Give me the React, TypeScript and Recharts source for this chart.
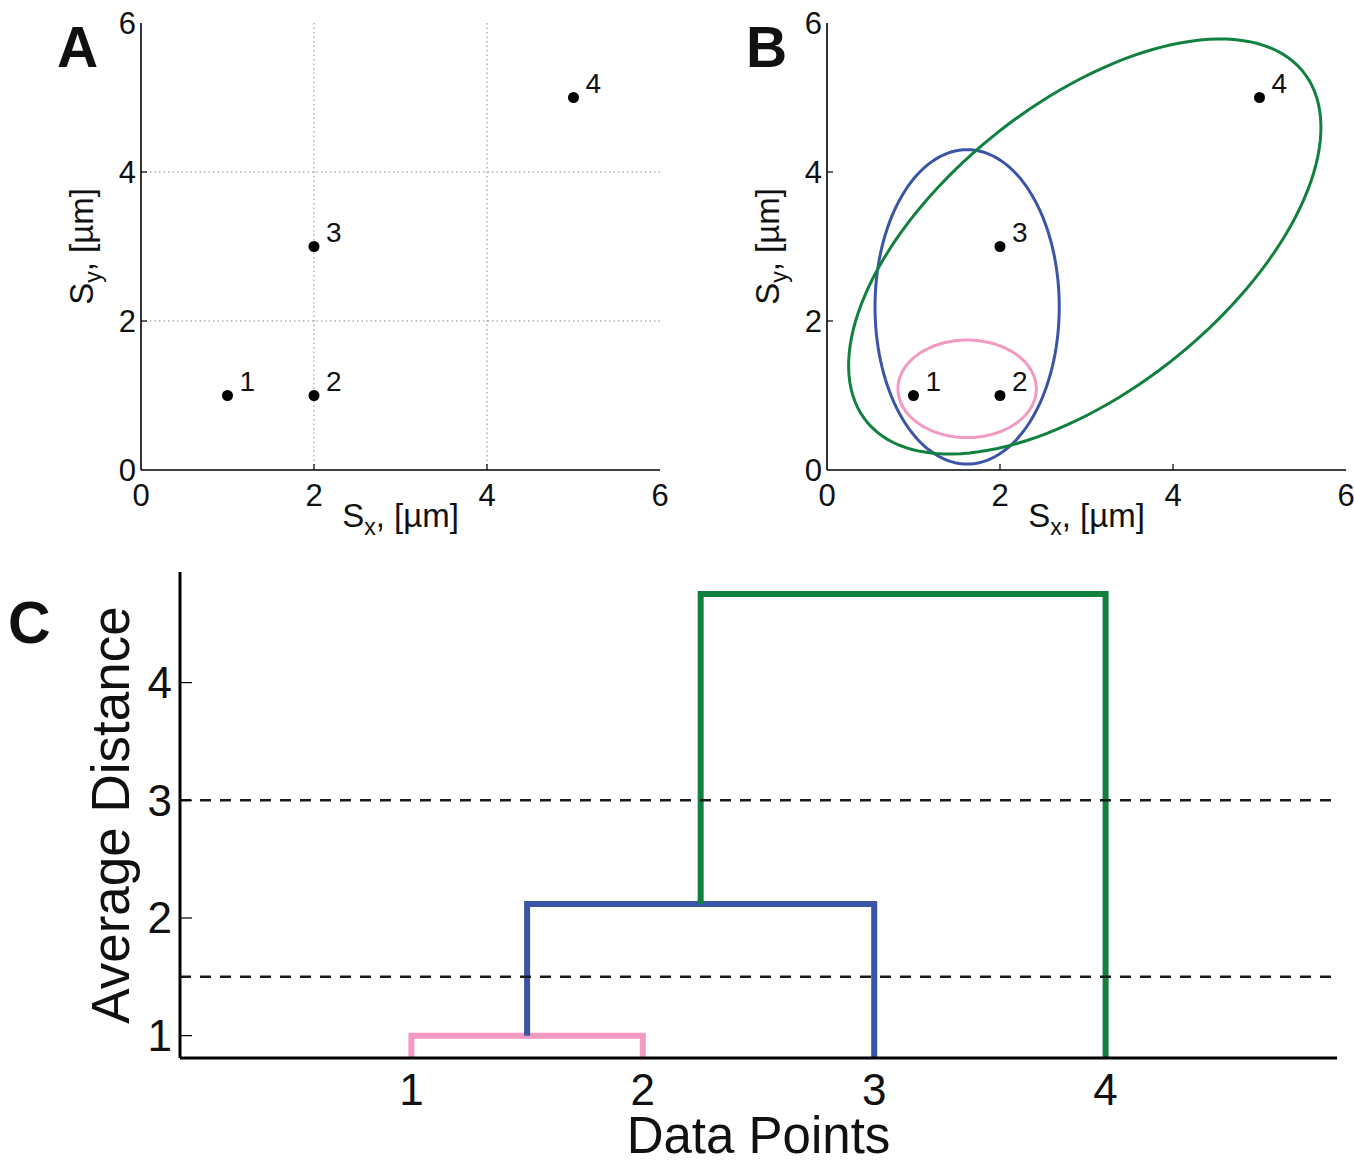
import React from 'react';
import { ComposedChart, Scatter, Line, XAxis, YAxis, CartesianGrid, ReferenceLine, Label } from 'recharts';

const FONT = '"Liberation Sans", Arial, Helvetica, sans-serif';

// panels A and B: the four data points
const pointX = [1, 2, 2, 5];
const pointY = [1, 1, 3, 5];
const pointLabels = ['1', '2', '3', '4'];
const scatterTicks = [0, 2, 4, 6];
const gridValues = [2, 4];

// panel B: cluster ellipses (centre, semi-axes, tilt in degrees)
const ellipseNames = ['pink', 'blue', 'green'];
const ellipseCx = [1.62, 1.62, 2.98];
const ellipseCy = [1.09, 2.19, 3.0];
const ellipseA = [0.8, 1.065, 3.46];
const ellipseB = [0.655, 2.11, 1.8];
const ellipseTilt = [0, 0, 46];

// panel C: dendrogram links
const leafTicks = [1, 2, 3, 4];
const distTicks = [1, 2, 3, 4];
const linkNames = ['pink', 'blue', 'green'];
const linkLeftX = [1, 1.5, 2.25];
const linkRightX = [2, 3, 4];
const linkLeftBase = [0, 1, 2.118];
const linkRightBase = [0, 0, 0];
const linkHeight = [1, 2.118, 4.754];
const cutLevels = [3, 1.5];

const COLORS: Record<string, string> = { pink: '#f49ac2', blue: '#3a55a5', green: '#12803f' };

const points = pointX.map((x, i) => ({ x, y: pointY[i], label: pointLabels[i] }));

// outline of each ellipse, sampled around its parametric angle
const ellipseData = ellipseNames.map((name, i) => {
  const th = (ellipseTilt[i] * Math.PI) / 180;
  const pts = [];
  for (let k = 0; k <= 144; k++) {
    const t = (2 * Math.PI * k) / 144;
    const u = ellipseA[i] * Math.cos(t);
    const v = ellipseB[i] * Math.sin(t);
    pts.push({ x: ellipseCx[i] + u * Math.cos(th) - v * Math.sin(th), y: ellipseCy[i] + u * Math.sin(th) + v * Math.cos(th) });
  }
  return { name, pts };
});

const linkData = linkNames.map((name, i) => ({
  name,
  pts: [
    { x: linkLeftX[i], y: linkLeftBase[i] },
    { x: linkLeftX[i], y: linkHeight[i] },
    { x: linkRightX[i], y: linkHeight[i] },
    { x: linkRightX[i], y: linkRightBase[i] },
  ],
}));

// inward tick marks like the original figure
const BoxTick = (props: any) => {
  const { x, y, payload, side, fontSize, len, gap, hideEnds } = props;
  const v = payload.value;
  const isEnd = hideEnds && (v === 0 || v === 6);
  let line = null;
  let label = null;
  if (side === 'bottom') {
    if (!isEnd && len) line = <line x1={x} y1={y} x2={x} y2={y - len} stroke="#000" strokeWidth={1.2} />;
    label = (
      <text x={x} y={y + gap} textAnchor="middle" fontSize={fontSize} fontFamily={FONT} fill="#111">
        {v}
      </text>
    );
  } else if (side === 'left') {
    if (!isEnd && len) line = <line x1={x} y1={y} x2={x + len} y2={y} stroke="#000" strokeWidth={1.2} />;
    label = (
      <text x={x - gap} y={y} textAnchor="end" dominantBaseline="central" fontSize={fontSize} fontFamily={FONT} fill="#111">
        {v}
      </text>
    );
  } else if (side === 'top') {
    if (!isEnd) line = <line x1={x} y1={y} x2={x} y2={y + len} stroke="#000" strokeWidth={1.2} />;
  } else if (side === 'right') {
    if (!isEnd) line = <line x1={x} y1={y} x2={x - len} y2={y} stroke="#000" strokeWidth={1.2} />;
  }
  return (
    <g>
      {line}
      {label}
    </g>
  );
};

const PointShape = (props: any) => {
  const { cx, cy, payload } = props;
  return (
    <g>
      <circle cx={cx} cy={cy} r={5.5} fill="#000" />
      <text x={cx + 12} y={cy - 5} fontSize={28} fontFamily={FONT} fill="#111">
        {payload.label}
      </text>
    </g>
  );
};

const XTitle = (p: any) => {
  const vb = p.viewBox;
  return (
    <text x={vb.x + vb.width / 2} y={vb.y + 57} textAnchor="middle" fontSize={33} fontFamily={FONT} fill="#111">
      S<tspan dy={8} fontSize={23}>x</tspan>
      <tspan dy={-8}>, [µm]</tspan>
    </text>
  );
};

const YTitle = (p: any) => {
  const vb = p.viewBox;
  const x = vb.x - 8;
  const y = vb.y + vb.height / 2;
  return (
    <text x={x} y={y} transform={`rotate(-90, ${x}, ${y})`} textAnchor="middle" fontSize={33} fontFamily={FONT} fill="#111">
      S<tspan dy={8} fontSize={23}>y</tspan>
      <tspan dy={-8}>, [µm]</tspan>
    </text>
  );
};

function ScatterPanel({ left, marginLeft, marginRight, grid, ellipses }: any) {
  return (
    <div style={{ position: 'absolute', left, top: 0 }}>
      <ComposedChart width={680} height={540} margin={{ top: 23, right: marginRight, bottom: 10, left: marginLeft }}>
        {grid && (
          <CartesianGrid
            stroke="#8a8a8a"
            strokeDasharray="1.5 3"
            horizontalValues={gridValues}
            verticalValues={gridValues}
          />
        )}
        <XAxis
          type="number"
          dataKey="x"
          domain={[0, 6]}
          ticks={scatterTicks}
          allowDataOverflow
          height={60}
          tickSize={0}
          tickMargin={0}
          tickLine={false}
          axisLine={{ stroke: '#000', strokeWidth: 1.6 }}
          tick={<BoxTick side="bottom" fontSize={31} len={6} gap={36} hideEnds />}
        >
          <Label content={XTitle} />
        </XAxis>
        <YAxis
          type="number"
          dataKey="y"
          domain={[0, 6]}
          ticks={scatterTicks}
          allowDataOverflow
          width={40}
          tickSize={0}
          tickMargin={0}
          tickLine={false}
          axisLine={{ stroke: '#000', strokeWidth: 1.6 }}
          tick={<BoxTick side="left" fontSize={31} len={6} gap={5} hideEnds />}
        >
          <Label content={YTitle} />
        </YAxis>
        <XAxis
          xAxisId="top"
          orientation="top"
          type="number"
          domain={[0, 6]}
          ticks={scatterTicks}
          height={0}
          tickSize={0}
          tickMargin={0}
          tickLine={false}
          axisLine={{ stroke: '#000', strokeWidth: 1.6 }}
          tick={<BoxTick side="top" len={6} hideEnds />}
        />
        <YAxis
          yAxisId="right"
          orientation="right"
          type="number"
          domain={[0, 6]}
          ticks={scatterTicks}
          width={0}
          tickSize={0}
          tickMargin={0}
          tickLine={false}
          axisLine={{ stroke: '#000', strokeWidth: 1.6 }}
          tick={<BoxTick side="right" len={6} hideEnds />}
        />
        {ellipses &&
          ellipseData.map((e) => (
            <Line
              key={e.name}
              data={e.pts}
              dataKey="y"
              type="linear"
              stroke={COLORS[e.name]}
              strokeWidth={3}
              dot={false}
              activeDot={false}
              isAnimationActive={false}
            />
          ))}
        <Scatter data={points} dataKey="y" shape={<PointShape />} isAnimationActive={false} />
      </ComposedChart>
    </div>
  );
}

function DendrogramPanel() {
  return (
    <div style={{ position: 'absolute', left: 0, top: 550 }}>
      <ComposedChart width={1354} height={611} margin={{ top: 22, right: 17, bottom: 3, left: 100 }}>
        <XAxis
          type="number"
          dataKey="x"
          domain={[0, 5]}
          ticks={leafTicks}
          allowDataOverflow
          height={100}
          tickSize={0}
          tickMargin={0}
          tickLine={false}
          axisLine={{ stroke: '#000', strokeWidth: 3 }}
          tick={<BoxTick side="bottom" fontSize={44} len={0} gap={47} />}
        >
          <Label
            content={(p: any) => (
              <text
                x={p.viewBox.x + p.viewBox.width / 2}
                y={p.viewBox.y + 95}
                textAnchor="middle"
                fontSize={51}
                fontFamily={FONT}
                fill="#111"
              >
                Data Points
              </text>
            )}
          />
        </XAxis>
        <YAxis
          type="number"
          dataKey="y"
          domain={[0.81, 4.94]}
          ticks={distTicks}
          allowDataOverflow
          width={80}
          tickSize={0}
          tickMargin={0}
          tickLine={false}
          axisLine={{ stroke: '#000', strokeWidth: 3 }}
          tick={<BoxTick side="left" fontSize={44} len={12} gap={8} />}
        >
          <Label
            content={(p: any) => {
              const x = p.viewBox.x + 29;
              const y = p.viewBox.y + p.viewBox.height / 2;
              return (
                <text x={x} y={y} transform={`rotate(-90, ${x}, ${y})`} textAnchor="middle" fontSize={53} fontFamily={FONT} fill="#111">
                  Average Distance
                </text>
              );
            }}
          />
        </YAxis>
        {linkData.map((l) => (
          <Line
            key={l.name}
            data={l.pts}
            dataKey="y"
            type="linear"
            stroke={COLORS[l.name]}
            strokeWidth={6}
            strokeLinejoin="miter"
            strokeLinecap="butt"
            dot={false}
            activeDot={false}
            isAnimationActive={false}
          />
        ))}
        {cutLevels.map((c) => (
          <ReferenceLine key={c} y={c} stroke="#1a1a1a" strokeWidth={2.5} strokeDasharray="11 9" />
        ))}
      </ComposedChart>
    </div>
  );
}

export default function App() {
  return (
    <div style={{ position: 'absolute', left: 0, top: 0, width: 1354, height: 1161, overflow: 'hidden', background: '#fff' }}>
      <ScatterPanel left={0} marginLeft={101} marginRight={20} grid ellipses={false} />
      <ScatterPanel left={674} marginLeft={113} marginRight={8} grid={false} ellipses />
      <DendrogramPanel />
      <svg width={1354} height={1161} style={{ position: 'absolute', left: 0, top: 0, pointerEvents: 'none' }}>
        <text x={57} y={67} fontSize={57} fontWeight="bold" fontFamily={FONT} fill="#111">
          A
        </text>
        <text x={746} y={67} fontSize={57} fontWeight="bold" fontFamily={FONT} fill="#111">
          B
        </text>
        <text x={8} y={643} fontSize={59} fontWeight="bold" fontFamily={FONT} fill="#111">
          C
        </text>
      </svg>
    </div>
  );
}
